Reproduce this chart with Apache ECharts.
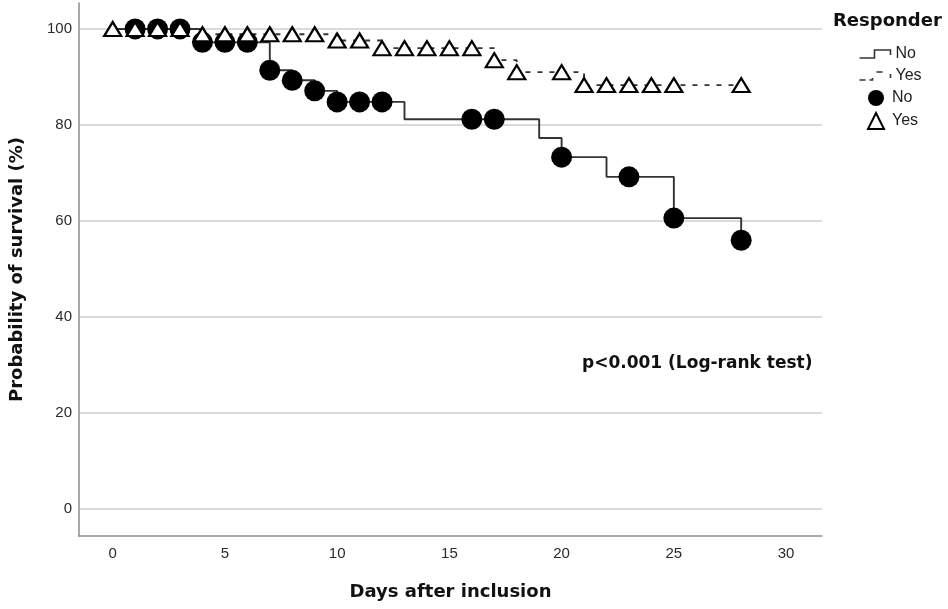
<!DOCTYPE html>
<html>
<head>
<meta charset="utf-8">
<script src="https://cdn.jsdelivr.net/npm/echarts@6/dist/echarts.min.js"></script>
<style>
html,body{margin:0;padding:0;background:#fff;}
#chart{width:948px;height:609px;}
</style>
</head>
<body>
<div id="chart"></div>
<script>
// ---- data ----
// "No" responders: Kaplan-Meier step curve (time, survival %)
const noStepTimes = [0, 4, 7, 8, 9, 10, 13, 19, 20, 22, 25, 28];
const noStepSurv  = [100, 97.2, 91.4, 89.3, 87.1, 84.8, 81.2, 77.3, 73.3, 69.2, 60.6, 56.0];
// "Yes" responders: Kaplan-Meier step curve
const yesStepTimes = [0, 4, 10, 12, 17, 18, 21, 28];
const yesStepSurv  = [100, 98.9, 97.6, 96.0, 93.5, 91.0, 88.3, 88.3];
// markers
const noMarkTimes = [1, 2, 3, 4, 5, 6, 7, 8, 9, 10, 11, 12, 16, 17, 20, 23, 25, 28];
const noMarkSurv  = [100, 100, 100, 97.2, 97.2, 97.2, 91.4, 89.3, 87.1, 84.8, 84.8, 84.8, 81.2, 81.2, 73.3, 69.2, 60.6, 56.0];
const yesMarkTimes = [0, 1, 2, 3, 4, 5, 6, 7, 8, 9, 10, 11, 12, 13, 14, 15, 16, 17, 18, 20, 21, 22, 23, 24, 25, 28];
const yesMarkSurv  = [100, 100, 100, 100, 98.9, 98.9, 98.9, 98.9, 98.9, 98.9, 97.6, 97.6, 96.0, 96.0, 96.0, 96.0, 96.0, 93.5, 91.0, 91.0, 88.3, 88.3, 88.3, 88.3, 88.3, 88.3];
// ticks
const xTicks = [0, 5, 10, 15, 20, 25, 30];
const yTicks = [0, 20, 40, 60, 80, 100];
const legendTitle = 'Responder';
const groupLabels = ['No', 'Yes'];
const annotation = 'p<0.001 (Log-rank test)';
const xTitle = 'Days after inclusion';
const yTitle = 'Probability of survival (%)';

const zip = (a, b) => a.map((v, i) => [v, b[i]]);

const chart = echarts.init(document.getElementById('chart'), null, {renderer: 'canvas'});
const labelMap = {No_line: groupLabels[0], Yes_line: groupLabels[1], No_pt: groupLabels[0], Yes_pt: groupLabels[1]};

const option = {
  animation: false,
  backgroundColor: '#fff',
  grid: {left: 75, right: 126, top: 3, bottom: 73, containLabel: false},
  xAxis: {
    type: 'value', min: -1.5, max: 31.6,
    name: xTitle, nameLocation: 'middle', nameGap: 47,
    nameTextStyle: {fontFamily: 'DejaVu Sans', fontWeight: 'bold', fontSize: 18, color: '#111'},
    axisLine: {show: true, onZero: false, lineStyle: {color: '#8c8c8c', width: 1.5}},
    axisTick: {show: false, customValues: xTicks},
    axisLabel: {customValues: xTicks, margin: 10, fontFamily: 'Liberation Sans', fontSize: 15, color: '#2a2a2a'},
    splitLine: {show: false}
  },
  yAxis: {
    type: 'value', min: -5.6, max: 105.4,
    name: yTitle, nameLocation: 'middle', nameGap: 53, nameRotate: 90,
    nameTextStyle: {fontFamily: 'DejaVu Sans', fontWeight: 'bold', fontSize: 18, color: '#111'},
    axisLine: {show: true, onZero: false, lineStyle: {color: '#8c8c8c', width: 1.5}},
    axisTick: {show: false, customValues: yTicks},
    axisLabel: {customValues: yTicks, margin: 7, fontFamily: 'Liberation Sans', fontSize: 15, color: '#2a2a2a'},
    splitLine: {show: true, lineStyle: {color: '#cfcfcf', width: 1.5}}
  },
  legend: [
    {
      orient: 'vertical', left: 857, top: 46, padding: 0,
      itemWidth: 31, itemHeight: 9, itemGap: 6,
      formatter: n => labelMap[n],
      textStyle: {fontFamily: 'Liberation Sans', fontSize: 16, lineHeight: 16, color: '#222'},
      data: [
        {name: 'No_line', icon: 'path://M0,8L15,8L15,0L31,0L31,5',
         itemStyle: {color: 'none', borderColor: '#333', borderWidth: 1.6}},
        {name: 'Yes_line', icon: 'path://M0,8L6,8M10,8L13,8L13,6M17,0L23,0M31,2L31,6',
         itemStyle: {color: 'none', borderColor: '#333', borderWidth: 1.6}}
      ]
    },
    {
      orient: 'vertical', left: 867, top: 90, padding: 0,
      itemWidth: 16, itemHeight: 16, itemGap: 6,
      formatter: n => labelMap[n],
      textStyle: {fontFamily: 'Liberation Sans', fontSize: 16, lineHeight: 16, color: '#222', padding: [0, 0, 0, 3]},
      data: [
        {name: 'No_pt', icon: 'circle'},
        {name: 'Yes_pt', icon: 'triangle', itemStyle: {color: '#fff', borderColor: '#000', borderWidth: 2}}
      ]
    }
  ],
  graphic: [
    {type: 'text', left: 833, top: 12, style: {text: legendTitle, fontFamily: 'DejaVu Sans', fontWeight: 'bold', fontSize: 18, fill: '#111'}},
    {type: 'text', left: 582, top: 355, style: {text: annotation, fontFamily: 'DejaVu Sans', fontWeight: 'bold', fontSize: 17, fill: '#111'}}
  ],
  series: [
    {
      name: 'No_line', type: 'line', step: 'end', showSymbol: false, z: 2,
      data: zip(noStepTimes, noStepSurv),
      lineStyle: {color: '#333', width: 1.9}, itemStyle: {color: '#333'}
    },
    {
      name: 'Yes_line', type: 'line', step: 'end', showSymbol: false, z: 2,
      data: zip(yesStepTimes, yesStepSurv),
      lineStyle: {color: '#333', width: 1.9, type: [5, 7]}, itemStyle: {color: '#333'}
    },
    {
      name: 'No_pt', type: 'scatter', z: 3,
      data: zip(noMarkTimes, noMarkSurv),
      symbol: 'circle', symbolSize: 21,
      itemStyle: {color: '#000', opacity: 1}
    },
    {
      name: 'Yes_pt', type: 'scatter', z: 4,
      data: zip(yesMarkTimes, yesMarkSurv),
      symbol: 'triangle', symbolSize: [17, 14],
      itemStyle: {color: '#fff', borderColor: '#000', borderWidth: 2.2, opacity: 1}
    }
  ]
};
chart.setOption(option);
</script>
</body>
</html>
